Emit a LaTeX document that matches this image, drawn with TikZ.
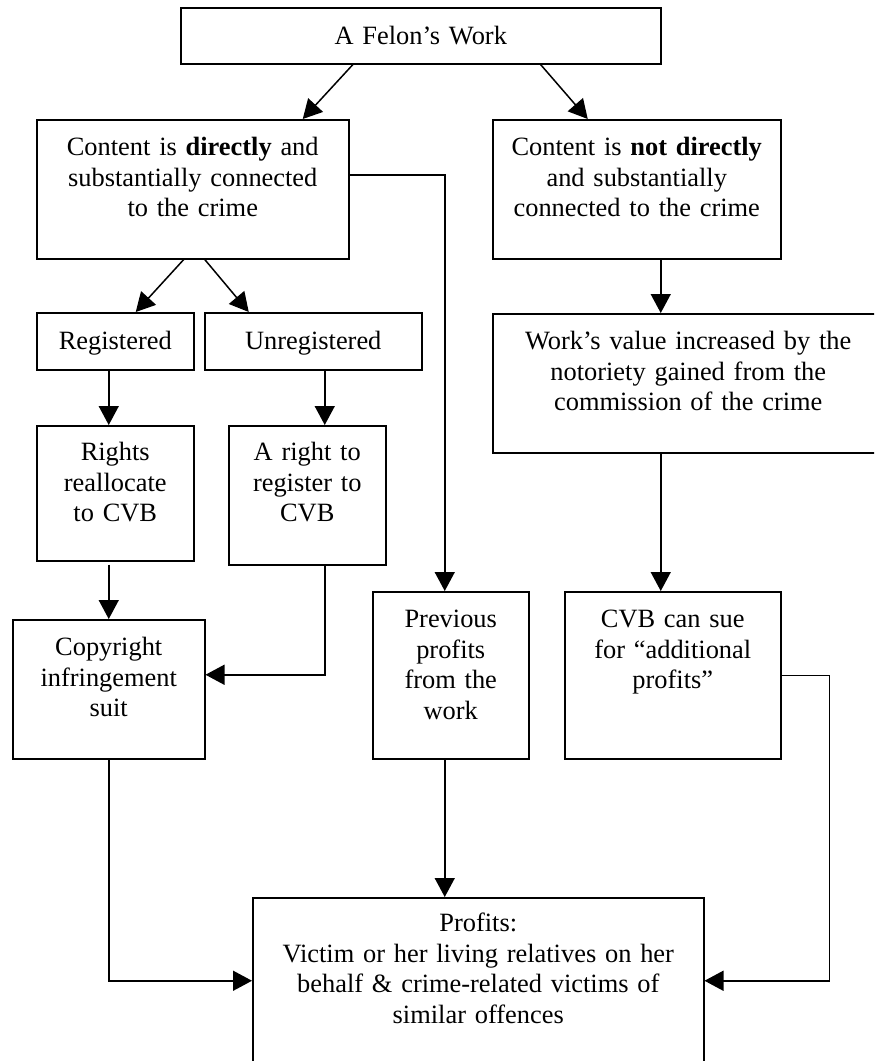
\documentclass[tikz,border=0pt]{standalone}
\usepackage{fontspec}
\setmainfont{Liberation Serif}
\usetikzlibrary{arrows.meta}
\usetikzlibrary{calc}

\begin{document}
\begin{tikzpicture}[x=0.5pt,y=-0.5pt,
		box/.style={draw,line width=0.75pt,inner sep=0pt,anchor=north west,align=center,font=\fontsize{13.2pt}{15.25pt}\selectfont},
		arr/.style={line width=0.75pt,-{Triangle[length=9.5pt,width=10pt]}}]
		\useasboundingbox (0,0) rectangle (874,1061);
		\clip (0,0) rectangle (874,1061);

		\node[box,text width=240pt,text height=18.2pt,text depth=9.9pt] (work) at (180,7) {A Felon’s Work};

		\node[box,text width=156pt,text height=18pt,text depth=51.5pt] (direct) at (36,119) {Content is \textbf{directly} and\\substantially connected\\to the crime};
		\node[box,text width=144pt,text height=18pt,text depth=51.5pt] (notdirect) at (492,119) {Content is \textbf{not directly}\\and substantially\\connected to the crime};

		\node[box,text width=78.5pt,text height=18.5pt,text depth=10pt] (reg) at (36,312) {Registered};
		\node[box,text width=108.5pt,text height=18.5pt,text depth=10pt] (unreg) at (204,312) {Unregistered};
		\node[box,text width=195.5pt,text height=18pt,text depth=51.5pt] (value) at (492,313) {Work’s value increased by the\\notoriety gained from the\\commission of the crime};

		\node[box,text width=78.5pt,text height=17.5pt,text depth=50pt] (rights) at (36,425) {Rights\\reallocate\\to CVB};
		\node[box,text width=78.5pt,text height=17.5pt,text depth=52pt] (aright) at (228,425) {A right to\\register to\\CVB};

		\node[box,text width=96pt,text height=18pt,text depth=51.5pt] (copy) at (12,619) {Copyright\\infringement\\suit};
		\node[box,text width=78pt,text height=18pt,text depth=65.5pt] (prev) at (372,591) {Previous\\profits\\from the\\work};
		\node[box,text width=108pt,text height=18pt,text depth=65.5pt] (cvb) at (564,591) {CVB can sue\\for “additional\\profits”};

		\node[box,text width=225.5pt,text height=17pt,text depth=72pt] (profits) at (252,897) {Profits:\\Victim or her living relatives on her\\behalf \& crime-related victims of\\similar offences};

		\draw[arr] ($(work.south)+(-68,0)$) -- ($(direct.north)+(110,0)$);
		\draw[arr] ($(work.south)+(120,0)$) -- ($(notdirect.north)+(-49,0)$);
		\draw[arr] ($(direct.south)+(-9,0)$) -- ($(reg.north)+(20.5,0)$);
		\draw[arr] ($(direct.south)+(12,0)$) -- ($(unreg.north)+(-64.5,0)$);
		\draw[arr] ($(notdirect.south)+(24,0)$) -- ($(value.north)+(-27.5,0)$);
		\draw[arr] ($(reg.south)+(-6.5,0)$) -- ($(rights.north)+(-6.5,0)$);
		\draw[arr] ($(unreg.south)+(11.5,0)$) -- ($(aright.north)+(17.5,0)$);
		\draw[arr] ($(rights.south)+(-6.5,3)$) -- (copy.north);
		\draw[arr] ($(aright.south)+(17.5,0)$) |- ($(copy.east)+(0,-14.5)$);
		\draw[arr] ($(direct.east)+(0,-14.5)$) -| ($(prev.north)+(-6,0)$);
		\draw[arr] ($(value.south)+(-27.5,0)$) -- ($(cvb.north)+(-12,0)$);
		\draw[arr] (copy.south) |- ($(profits.west)+(0,-6)$);
		\draw[arr] ($(prev.south)+(-6,0)$) -- ($(profits.north)+(-33.5,0)$);
		\draw[arr] (cvb.east) -- ++(48,0) |- ($(profits.east)+(0,-6)$);
	\end{tikzpicture}
\end{document}
